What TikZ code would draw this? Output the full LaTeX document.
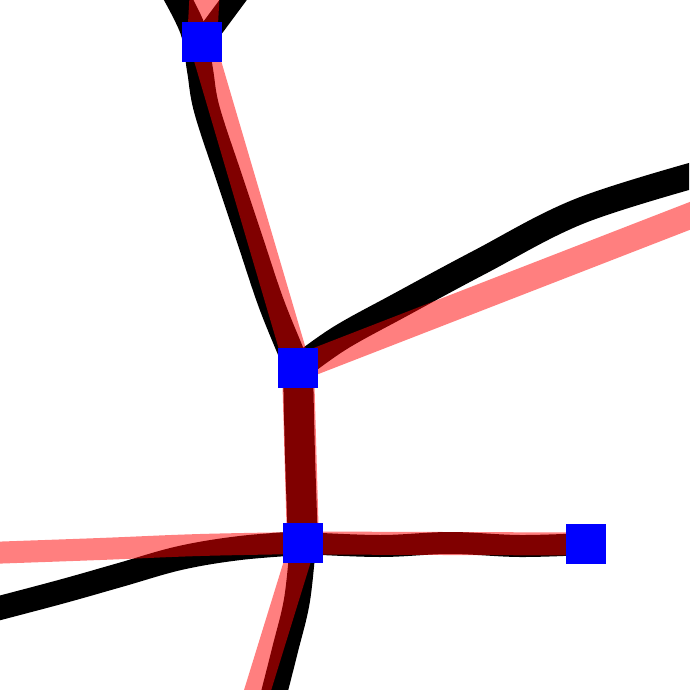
\documentclass[tikz,border=0pt]{standalone}
\definecolor{pred}{RGB}{255,0,0}
\definecolor{nodeblue}{RGB}{0,0,255}
\pgfdeclarelayer{fg}
\pgfsetlayers{main,fg}
\begin{document}
\begin{tikzpicture}[x=1pt,y=-1pt,
  gtline/.style={draw=black,line width=26pt,line cap=round,line join=round},
  predline/.style={draw=pred,line width=26pt,line cap=round,line join=round},
  vertex/.style={rectangle,fill=nodeblue,draw=none,minimum size=40pt,inner sep=0pt}]
\fill[white] (0,0) rectangle (689,690);
\useasboundingbox (0,0) rectangle (689,690);
\clip (0,0) rectangle (689,690);
\begin{pgfonlayer}{fg}
\node[vertex] (n1) at (202,42) {};
\node[vertex] (n2) at (298,368) {};
\node[vertex] (n3) at (303,543) {};
\node[vertex] (n4) at (586,544) {};
\end{pgfonlayer}
% free ends
\coordinate (bTopL) at (172,-12);
\coordinate (bTopR) at (242,-12);
\coordinate (bRight) at (705,172);
\coordinate (bLeft) at (-12,611);
\coordinate (bBottom) at (271,705);
\coordinate (rTop) at (205,-12);
\coordinate (rRight) at (705,210);
\coordinate (rLeft) at (-12,553);
\coordinate (rBottom) at (253,705);
% ground truth (black)
\draw[gtline] plot[smooth,tension=0.6] coordinates {(bTopL) (193,30) (200,70) (207,110) (230,180) (250,240) (270,300) (288,345) (n2.center)};
\draw[gtline,line width=22pt] (bTopR) -- (n1.center);
\draw[gtline] plot[smooth,tension=0.6] coordinates {(n2.center) (340,338) (400,305) (480,262) (580,211) (bRight)};
\draw[gtline,line width=30pt] plot[smooth,tension=0.6] coordinates {(n2.center) (300,455) (n3.center)};
\draw[gtline,line width=22pt] plot[smooth,tension=0.6] coordinates {(n3.center) (380,546) (450,543) (520,546) (n4.center)};
\draw[gtline,line width=24pt] plot[smooth,tension=0.6] coordinates {(n3.center) (240,548) (180,558) (120,575) (60,592) (bLeft)};
\draw[gtline] plot[smooth,tension=0.6] coordinates {(n3.center) (297,600) (285,650) (bBottom)};
% prediction (red, 50%)
\begin{scope}[transparency group,opacity=0.5]
\draw[predline,line width=30pt] (rTop) -- (n1.center);
\draw[predline] (n1.center) -- (n2.center);
\draw[predline] (n2.center) -- (rRight);
\draw[predline,line width=32pt] (n2.center) -- (n3.center);
\draw[predline,line width=23pt] (n3.center) -- (n4.center);
\draw[predline,line width=22pt] plot[smooth,tension=0.6] coordinates {(n3.center) (200,545) (100,549) (rLeft)};
\draw[predline] (n3.center) -- (rBottom);
\end{scope}
\end{tikzpicture}
\end{document}
